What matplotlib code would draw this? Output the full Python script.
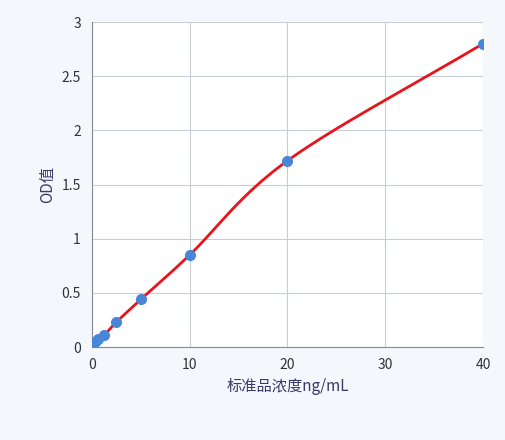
import matplotlib
matplotlib.use("Agg")
import matplotlib.pyplot as plt
import numpy as np

conc = [0.3125, 0.625, 1.25, 2.5, 5, 10, 20, 40]
od = [0.05, 0.07, 0.11, 0.23, 0.44, 0.85, 1.72, 2.80]

plt.rcParams['font.family'] = ['Noto Sans CJK SC', 'DejaVu Sans']

def catmull(x, y, n=40):
    x = np.asarray(x, float); y = np.asarray(y, float)
    px = np.concatenate([[2*x[0]-x[1]], x, [2*x[-1]-x[-2]]])
    py = np.concatenate([[2*y[0]-y[1]], y, [2*y[-1]-y[-2]]])
    xs, ys = [], []
    t = np.linspace(0, 1, n)
    for i in range(1, len(px)-2):
        for arr, out in ((px, xs), (py, ys)):
            p0, p1, p2, p3 = arr[i-1], arr[i], arr[i+1], arr[i+2]
            out.extend(0.5*((2*p1) + (-p0+p2)*t + (2*p0-5*p1+4*p2-p3)*t**2 + (-p0+3*p1-3*p2+p3)*t**3))
    return np.array(xs), np.array(ys)

fig = plt.figure(figsize=(5.06, 4.40), dpi=100)
fig.patch.set_facecolor('#f4f7fb')
ax = fig.add_axes([92/506, 1-347/440, (483-92)/506, (347-22)/440])
ax.set_facecolor('white')
sx, sy = catmull(conc, od)
ax.plot(sx, sy, color='#e8141b', lw=2, zorder=2)
ax.plot(conc, od, 'o', color='#4a86d8', ms=7, zorder=3)
ax.set_xlim(0, 40); ax.set_ylim(0, 3)
ax.set_xticks([0, 10, 20, 30, 40])
ax.set_yticks([0, 0.5, 1, 1.5, 2, 2.5, 3])
ax.set_yticklabels(['0', '0.5', '1', '1.5', '2', '2.5', '3'])
ax.grid(color='#c8ccd4', lw=0.8)
for s in ['top', 'right']:
    ax.spines[s].set_visible(False)
for s in ['left', 'bottom']:
    ax.spines[s].set_color('#8a8a8a')
ax.tick_params(length=0, labelsize=10, colors='#333333', pad=8)
ax.set_xlabel('标准品浓度ng/mL', fontsize=11, color='#3a3a6a')
ax.set_ylabel('OD值', fontsize=11, color='#3a3a6a')
fig.savefig('out.png', dpi=100)
